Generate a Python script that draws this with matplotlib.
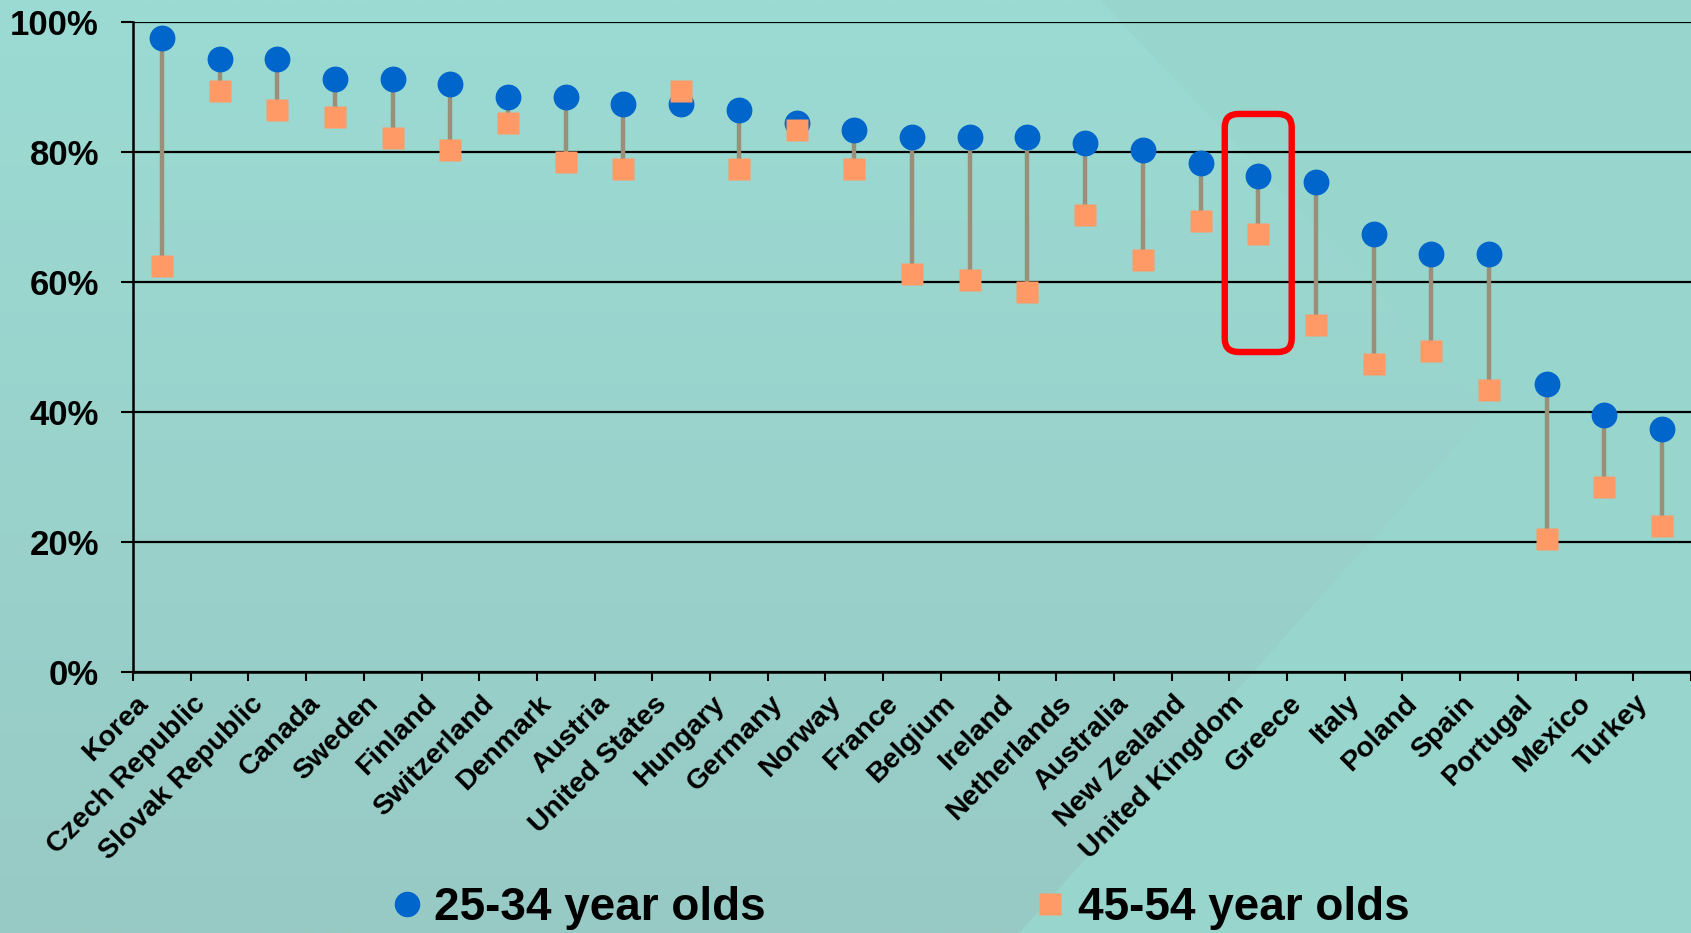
import numpy as np
import matplotlib
matplotlib.use("Agg")
import matplotlib.pyplot as plt
from matplotlib.patches import Polygon, FancyBboxPatch
from matplotlib.lines import Line2D

countries = ["Korea", "Czech Republic", "Slovak Republic", "Canada", "Sweden",
             "Finland", "Switzerland", "Denmark", "Austria", "United States",
             "Hungary", "Germany", "Norway", "France", "Belgium", "Ireland",
             "Netherlands", "Australia", "New Zealand", "United Kingdom",
             "Greece", "Italy", "Poland", "Spain", "Portugal", "Mexico", "Turkey"]
young = [97.5, 94.2, 94.2, 91.2, 91.2, 90.4, 88.4, 88.4, 87.4, 87.4,
         86.4, 84.4, 83.3, 82.3, 82.3, 82.3, 81.3, 80.3, 78.3, 76.3,
         75.3, 67.3, 64.3, 64.3, 44.3, 39.5, 37.3]
older = [62.5, 89.4, 86.4, 85.4, 82.1, 80.3, 84.4, 78.4, 77.3, 89.4,
         77.3, 83.3, 77.3, 61.2, 60.2, 58.4, 70.3, 63.3, 69.3, 67.3,
         53.4, 47.3, 49.3, 43.3, 20.4, 28.5, 22.4]
yticks = [0, 20, 40, 60, 80, 100]
ytick_labels = ["0%", "20%", "40%", "60%", "80%", "100%"]
legend_labels = ["25-34 year olds", "45-54 year olds"]
highlight = "United Kingdom"

FONT = "Liberation Sans"
W, H = 1691, 933
fig = plt.figure(figsize=(W / 100, H / 100), dpi=100)
fig.patch.set_facecolor("#97D5CD")

# background with subtle darker wedge
bg = fig.add_axes([0, 0, 1, 1], zorder=-10)
bg.set_xlim(0, W)
bg.set_ylim(H, 0)
bg.axis("off")
grad = np.linspace(0, 1, 200)[:, None]
top_c = np.array([0x9B, 0xDB, 0xD3]) / 255
bot_c = np.array([0x98, 0xCA, 0xC5]) / 255
img = top_c[None, None, :] * (1 - grad[:, :, None]) + bot_c[None, None, :] * grad[:, :, None]
img = np.repeat(img, 2, axis=1)
poly = Polygon([(0, 0), (1100, 0), (1488, 410), (1019, H), (0, H)], closed=True,
               transform=bg.transData, facecolor="none", edgecolor="none")
bg.add_patch(poly)
im = bg.imshow(img, extent=(0, W, H, 0), aspect="auto", interpolation="bilinear")
im.set_clip_path(poly)

ax = fig.add_axes([133 / W, 1 - 672 / H, 1 - 133 / W, (672 - 21.6) / H])
ax.patch.set_alpha(0)
x = np.arange(len(countries))

ax.vlines(x, older, young, color="#9A8F78", lw=3.2, zorder=2)
ax.plot(x, young, "o", ms=18.6, color="#0066CC", mec="none", zorder=3)
ax.plot(x, older, "s", ms=15.2, color="#FF9966", mec="none", zorder=4)

ax.set_xlim(-0.5, len(countries) - 0.5)
ax.set_ylim(0, 100)
ax.set_yticks(yticks)
ax.set_yticklabels(ytick_labels, fontfamily=FONT, fontweight="bold", fontsize=25)
ax.yaxis.grid(True, color="black", lw=1.6)
ax.set_axisbelow(True)
ax.tick_params(axis="y", length=8.5, width=1.5, pad=16, color="black")

ax.set_xticks(x)
ax.set_xticklabels([])
ax.set_xticks(np.arange(len(countries) + 1) - 0.5, minor=True)
ax.tick_params(axis="x", which="major", length=0)
ax.tick_params(axis="x", which="minor", length=6.5, width=1.5, color="black")
for xi, name in zip(x, countries):
    ax.annotate(name, xy=(xi, 0), xycoords=("data", "axes fraction"),
                xytext=(-13, -20), textcoords="offset points",
                rotation=45, ha="right", va="center", rotation_mode="anchor",
                fontfamily=FONT, fontweight="bold", fontsize=20.5, color="black")

for s in ["top", "right"]:
    ax.spines[s].set_visible(False)
for s in ["left", "bottom"]:
    ax.spines[s].set_color("black")
    ax.spines[s].set_linewidth(1.8)

# highlight box around the United Kingdom
hi = countries.index(highlight)
box = FancyBboxPatch((hi - 0.58, 49.2), 1.16, 36.6,
                     boxstyle="round,pad=0,rounding_size=0.24",
                     mutation_aspect=8.5, fill=False, edgecolor="#FF0000",
                     lw=4.6, zorder=5, clip_on=False)
ax.add_patch(box)

handles = [Line2D([], [], ls="none", marker="o", ms=18.4, color="#0066CC", mec="none"),
           Line2D([], [], ls="none", marker="s", ms=15.2, color="#FF9966", mec="none")]
leg = fig.legend(handles, legend_labels, loc="center", bbox_to_anchor=(0.533, 0.027),
                 ncol=2, frameon=False, handlelength=0.6, handletextpad=0.3,
                 columnspacing=5.9, borderaxespad=0,
                 prop={"family": FONT, "weight": "bold", "size": 33})

fig.savefig("out.png", dpi=100, facecolor=fig.get_facecolor())
